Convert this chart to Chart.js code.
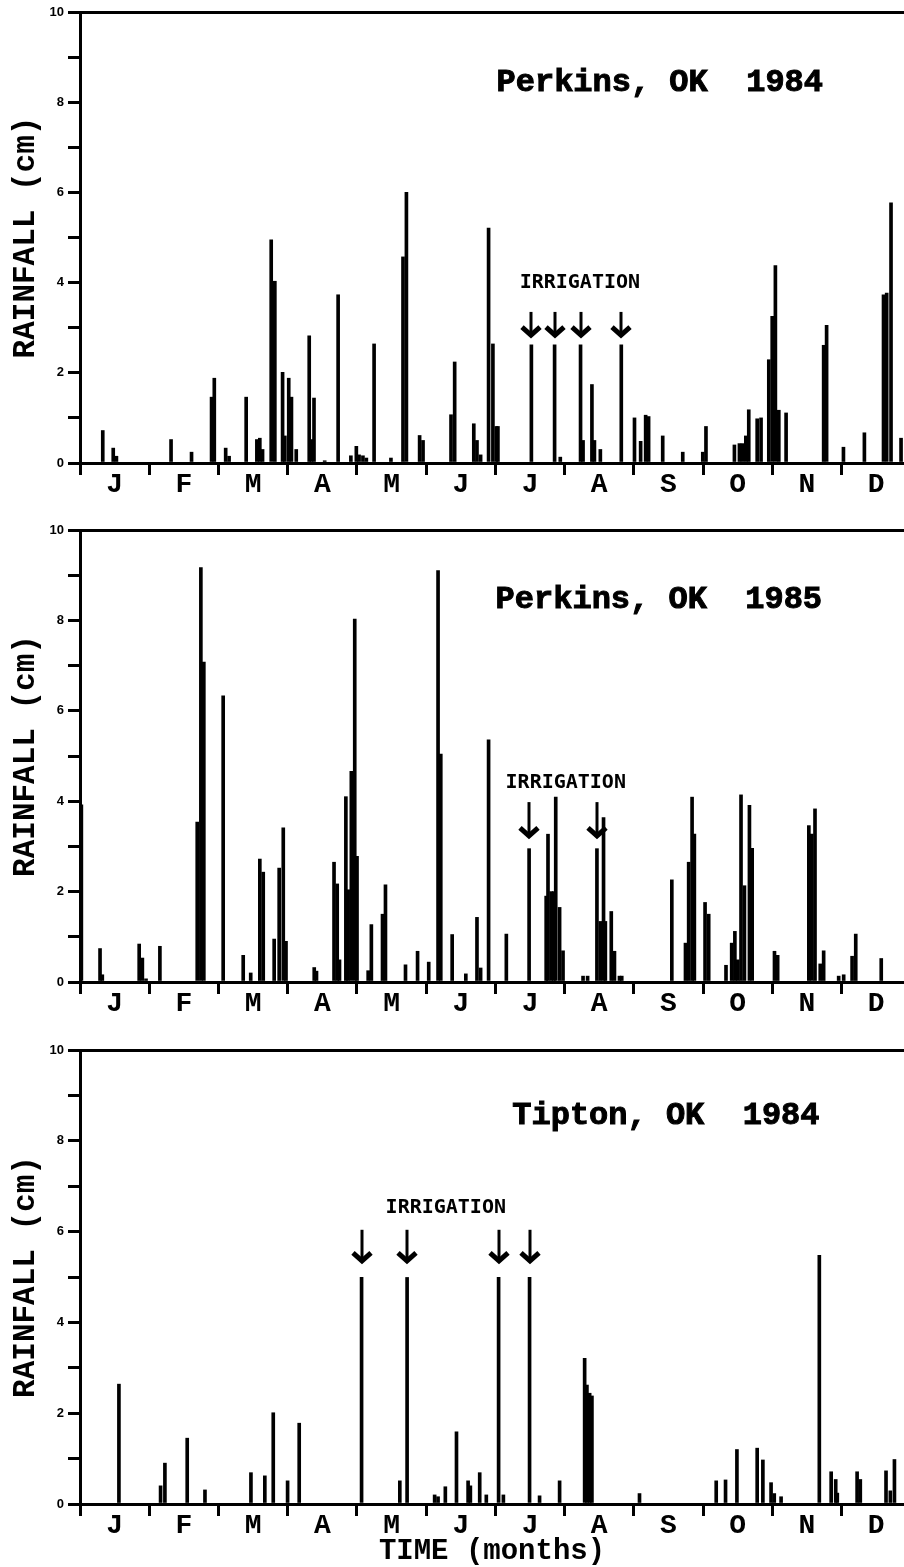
<!DOCTYPE html>
<html><head><meta charset="utf-8">
<script src="https://cdn.jsdelivr.net/npm/chart.js@4.4.1/dist/chart.umd.min.js"></script>
<style>
html,body{margin:0;padding:0;background:#fff;overflow:hidden;width:904px;height:1567px;}
.wrap{position:absolute;left:0;width:904px;}
canvas{display:block;}
</style></head><body>
<div class="wrap" style="top:0px"><canvas id="c1" width="904" height="510"></canvas></div>
<div class="wrap" style="top:510px"><canvas id="c2" width="904" height="519"></canvas></div>
<div class="wrap" style="top:1029px"><canvas id="c3" width="904" height="538"></canvas></div>
<script>
// ---- data (x = day of year, y = rainfall cm) ----
const months = ['J','F','M','A','M','J','J','A','S','O','N','D'];
const yTickValues = [0,2,4,6,8,10];

const days1 = [10,14.6,16,40,49,57.8,59,64,65.5,73,77.7,79,80.2,84,85.6,89,90,91.7,92.9,95,100.7,101.7,102.8,107.5,113.4,119,121.4,122.6,124.3,125.8,129.2,136.6,141.9,143.4,149.2,150.7,163,164.6,173,174.4,176,179.5,181.4,182.9,183.6,198.3,208.5,211,219.9,221,224.9,226,228.6,237.8,243.6,246.3,248.5,249.8,256,264.8,273.6,275,287.5,289.7,291,292.5,293.8,297.5,299.2,302.6,304.1,305.5,307,310.2,326.7,328,335.4,344.6,353,354.4,356.3,360.7];
const rain1 = [0.72,0.33,0.15,0.52,0.24,1.46,1.88,0.33,0.15,1.46,0.52,0.55,0.3,4.95,4.03,2.01,0.6,1.88,1.46,0.3,2.82,0.52,1.44,0.05,3.73,0.16,0.37,0.18,0.16,0.11,2.64,0.11,4.57,6.0,0.61,0.5,1.07,2.24,0.87,0.5,0.18,5.21,2.64,0.81,0.81,2.62,2.62,0.13,2.62,0.5,1.74,0.5,0.3,2.62,1.0,0.48,1.06,1.03,0.6,0.24,0.24,0.81,0.4,0.43,0.43,0.6,1.18,0.98,1.0,2.29,3.25,4.38,1.17,1.11,2.61,3.05,0.35,0.67,3.73,3.77,5.77,0.55];

const days2 = [0.6,8.8,9.8,26,27.4,29,35.1,51.5,53.1,54.4,62.9,71.7,75,79,80.5,85.3,87.5,89.3,90.5,102.9,103.9,111.6,113,114,116.8,117.8,119.2,120.7,121.7,126.6,128,132.9,134.2,143,148.3,153.2,157.3,158.5,163.5,169.5,174.4,176,179.5,187.3,197.3,204.8,205.6,207,208.2,209,210.7,212.2,221,223,227.1,228.6,230,230.8,233.4,234.8,237,238,260,266,267.4,268.9,269.9,274.6,276.2,283.8,286.3,287.7,289,290.4,291.9,294.1,295.3,305.1,306.5,320.2,321.5,322.9,325.2,326.7,333.3,335.5,339.2,340.8,352];
const rain2 = [3.92,0.74,0.16,0.84,0.53,0.07,0.79,3.54,9.17,7.08,6.33,0.59,0.2,2.72,2.43,0.95,2.52,3.41,0.9,0.32,0.24,2.65,2.17,0.49,4.1,2.04,4.66,8.03,2.78,0.25,1.27,1.5,2.15,0.38,0.68,0.44,9.1,5.04,1.05,0.18,1.43,0.31,5.36,1.06,2.95,1.9,3.27,2.0,2.0,4.09,1.65,0.69,0.13,0.13,2.95,1.34,3.64,1.34,1.56,0.68,0.13,0.13,2.26,0.86,2.65,4.09,3.27,1.76,1.5,0.37,0.86,1.12,0.49,4.14,2.13,3.91,2.96,0.68,0.59,3.46,3.27,3.83,0.4,0.69,0.13,0.16,0.57,1.06,0.52];

const days3 = [17.1,35.4,37.3,47.1,54.9,75.1,81.2,84.9,91.2,96.3,123.7,140.5,143.7,155.8,157.3,160.5,165.4,170.5,171.5,175.6,178.5,183.9,186,197.5,201.9,210.7,221.7,222.7,223.9,224.9,245.8,279.5,283.6,288.6,297.5,300,303.6,305,308,324.8,330,332,332.7,341.4,342.8,354.1,356,357.8];
const rain3 = [2.64,0.4,0.9,1.45,0.31,0.69,0.62,2.01,0.51,1.78,4.99,0.51,4.99,0.2,0.16,0.38,1.59,0.51,0.4,0.69,0.2,4.99,0.2,4.99,0.18,0.51,3.21,2.62,2.44,2.38,0.23,0.51,0.53,1.2,1.23,0.97,0.47,0.23,0.16,5.48,0.71,0.54,0.24,0.71,0.54,0.73,0.29,0.98];

const irrDays1 = [198.3,208.5,219.9,237.8];
const irrDays2 = [197.3,227.1];
const irrDays3 = [123.7,143.7,183.9,197.5];

const titles = ['Perkins, OK  1984','Perkins, OK  1985','Tipton, OK  1984'];

// ---- helpers ----
const MONTH = 365/12;
const boundaryTicks = months.map((m,i)=>i*MONTH);
const midTicks = months.map((m,i)=>(i+0.5)*MONTH);
const isMid = v => midTicks.some(t=>Math.abs(t-v)<1e-6);

const annotPlugin = {
  id:'annot',
  afterDraw(chart){
    const o = chart.options.plugins.annot;
    const xs = chart.scales.x, ys = chart.scales.y, ctx = chart.ctx;
    ctx.save();
    ctx.fillStyle='#000'; ctx.strokeStyle='#000';
    // title
    ctx.font = 'bold 32px "Liberation Mono"';
    ctx.textAlign='center'; ctx.textBaseline='middle';
    const tx = xs.getPixelForValue(o.titleAt[0]), ty = ys.getPixelForValue(o.titleAt[1]);
    ctx.fillText(o.title, tx, ty);
    ctx.lineWidth = 1; ctx.strokeText(o.title, tx, ty);
    // irrigation label
    ctx.font = 'bold 20px "DejaVu Sans Mono"';
    ctx.fillText('IRRIGATION', xs.getPixelForValue(o.labelAt[0]), ys.getPixelForValue(o.labelAt[1]));
    // arrows
    o.irr.forEach(d=>{
      const px = Math.round(xs.getPixelForValue(d));
      const yt = ys.getPixelForValue(o.arrow[0]);
      const yb = ys.getPixelForValue(o.arrow[1]);
      ctx.lineWidth=3; ctx.lineCap='butt';
      ctx.beginPath(); ctx.moveTo(px, yt); ctx.lineTo(px, yb-3); ctx.stroke();
      ctx.lineWidth=5; ctx.lineJoin='miter';
      ctx.beginPath(); ctx.moveTo(px-9, yb-10); ctx.lineTo(px, yb-2); ctx.lineTo(px+9, yb-10); ctx.stroke();
    });
    ctx.restore();
  }
};

function makeChart(id, days, rain, cfg){
  const data = days.map((d,i)=>({x:d, y:rain[i]}));
  return new Chart(document.getElementById(id), {
    type:'bar',
    data:{datasets:[{data, backgroundColor:'#000', borderWidth:0, barThickness:3}]},
    options:{
      responsive:false, animation:false, devicePixelRatio:1,
      layout:{padding:{top:cfg.padTop, left:0, right:0, bottom:0}},
      plugins:{legend:{display:false}, tooltip:{enabled:false},
        annot:{title:cfg.title, titleAt:cfg.titleAt, labelAt:cfg.labelAt, irr:cfg.irr, arrow:cfg.arrow}},
      scales:{
        x:{type:'linear', min:0, max:362, offset:false,
          afterBuildTicks(s){ s.ticks = boundaryTicks.concat(midTicks).sort((a,b)=>a-b).filter(v=>v<=362).map(v=>({value:v})); },
          afterFit(s){ s.height = cfg.xHeight; },
          grid:{display:true, drawOnChartArea:false, drawTicks:true, tickLength:12, offset:false,
            tickWidth:3, tickColor:(c)=> (c.tick && isMid(c.tick.value)) ? 'rgba(0,0,0,0)' : '#000'},
          border:{display:true, color:'#000', width:3},
          ticks:{autoSkip:false, maxRotation:0, padding:-7, color:'#000',
            font:{family:'Liberation Mono', weight:'bold', size:28},
            callback:(v)=>{ const i = midTicks.findIndex(t=>Math.abs(t-v)<1e-6); return i>=0 ? months[i] : ''; }},
          title:{display:!!cfg.xTitle, text:cfg.xTitle||'', color:'#000', padding:{top:0,bottom:-2},
            font:{family:'Liberation Mono', weight:'bold', size:29}}
        },
        y:{type:'linear', min:0, max:10,
          afterBuildTicks(s){ s.ticks = [0,1,2,3,4,5,6,7,8,9,10].map(v=>({value:v})); },
          afterFit(s){ s.width = 80; },
          grid:{display:true, drawOnChartArea:true, drawTicks:true, tickLength:12,
            color:(c)=> (c.tick && c.tick.value===10) ? '#000' : 'rgba(0,0,0,0)',
            lineWidth:3, tickWidth:3, tickColor:'#000'},
          border:{display:true, color:'#000', width:3},
          ticks:{color:'#000', padding:4, font:{family:'Liberation Sans', weight:'bold', size:13},
            callback:(v)=> yTickValues.includes(v) ? String(v) : ''},
          title:{display:true, text:'RAINFALL (cm)', color:'#000', padding:{top:8,bottom:0},
            font:{family:'Liberation Mono', weight:'bold', size:31}}
        }
      }
    },
    plugins:[annotPlugin]
  });
}

makeChart('c1', days1, rain1, {padTop:12, xHeight:47, title:titles[0], titleAt:[254.7,8.43],
  labelAt:[219.6,3.99], irr:irrDays1, arrow:[3.35,2.79]});
makeChart('c2', days2, rain2, {padTop:20, xHeight:47, title:titles[1], titleAt:[254.3,8.45],
  labelAt:[213.4,4.4], irr:irrDays2, arrow:[3.98,3.19]});
makeChart('c3', days3, rain3, {padTop:21, xHeight:63, title:titles[2], titleAt:[257.4,8.55],
  labelAt:[160.7,6.52], irr:irrDays3, arrow:[6.04,5.31], xTitle:'TIME (months)'});
</script>
</body></html>
